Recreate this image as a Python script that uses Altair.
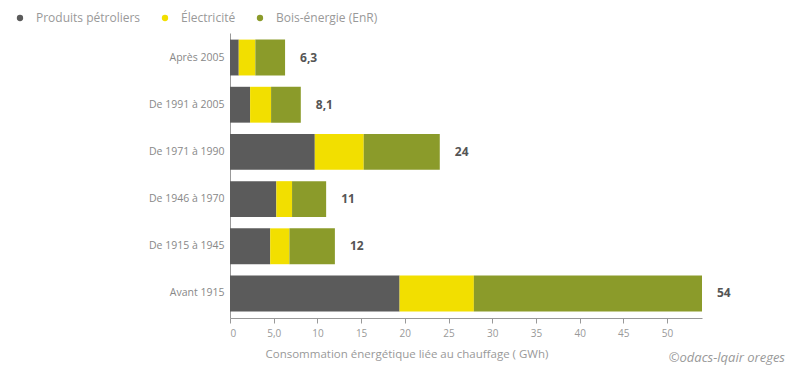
import altair as alt
import pandas as pd

periods = ["Après 2005", "De 1991 à 2005", "De 1971 à 1990", "De 1946 à 1970", "De 1915 à 1945", "Avant 1915"]
petrole = [1.0, 2.3, 9.7, 5.3, 4.6, 19.4]
electricite = [1.9, 2.4, 5.6, 1.8, 2.2, 8.5]
bois = [3.4, 3.4, 8.7, 3.9, 5.2, 26.1]
totals = [6.3, 8.1, 24, 11, 12, 54]
total_labels = ["6,3", "8,1", "24", "11", "12", "54"]
series = ["Produits pétroliers", "Électricité", "Bois-énergie (EnR)"]
colors = ["#5b5b5b", "#f2df00", "#8b9b2a"]
major_ticks = [0, 5, 10, 15, 20, 25, 30, 35, 40, 45, 50]

rows = []
for i, p in enumerate(periods):
    for k, (s, vals) in enumerate(zip(series, [petrole, electricite, bois])):
        rows.append({"periode": p, "source": s, "valeur": vals[i], "ordre": k})
df = pd.DataFrame(rows)
df_tot = pd.DataFrame({"periode": periods, "total": totals, "label": total_labels})

FONT = "Open Sans"

xscale = alt.Scale(domain=[0, 54], nice=False)
yenc = alt.Y("periode:N", sort=periods, title=None,
             scale=alt.Scale(paddingInner=0.24, paddingOuter=0.14),
             axis=alt.Axis(domain=True, domainColor="#999", ticks=False, labelPadding=6,
                           labelColor="#888", labelFontSize=10.5, labelFont=FONT))

bars = alt.Chart(df).mark_bar().encode(
    x=alt.X("valeur:Q", stack="zero", scale=xscale,
            title="Consommation énergétique liée au chauffage ( GWh)",
            axis=alt.Axis(values=major_ticks, orient="bottom",
                          labelExpr="datum.value == 5 ? '5,0' : datum.label",
                          grid=False, domainColor="#999", tickColor="#999", tickSize=5,
                          labelPadding=5,
                          labelColor="#999", labelFontSize=10, labelFont=FONT,
                          titleColor="#999", titleFontSize=11.5, titleFont=FONT,
                          titleFontWeight="normal", titlePadding=10,
                          titleAnchor="start", titleAlign="left", titleX=35)),
    y=yenc,
    color=alt.Color("source:N", sort=series,
                    scale=alt.Scale(domain=series, range=colors),
                    legend=alt.Legend(title=None, orient="none", direction="horizontal",
                                      legendX=-216, legendY=-21, symbolType="circle",
                                      symbolSize=40, labelFont=FONT, labelFontSize=12,
                                      labelColor="#999", columnPadding=18, labelOffset=10,
                                      symbolStrokeWidth=0)),
    order=alt.Order("ordre:Q"),
)

labels = alt.Chart(df_tot).mark_text(align="left", baseline="middle", dx=15,
                                     fontSize=12, fontWeight="bold", color="#555", font=FONT).encode(
    x=alt.X("total:Q", scale=xscale),
    y=alt.Y("periode:N", sort=periods),
    text="label:N",
)

chart = alt.layer(bars, labels).properties(
    width=472, height=285,
    padding={"left": 222, "top": 25, "right": 100, "bottom": 50},
    autosize=alt.AutoSizeParams(type="none"),
    title=alt.Title("©odacs-lqair oreges", orient="bottom", anchor="end", align="left",
                    dx=-62, offset=-8,
                    fontSize=13, fontStyle="italic", color="#999", font=FONT, fontWeight="normal"),
).configure_view(stroke=None)

chart.save("out.html", embed_options={"renderer": "svg", "actions": False})
